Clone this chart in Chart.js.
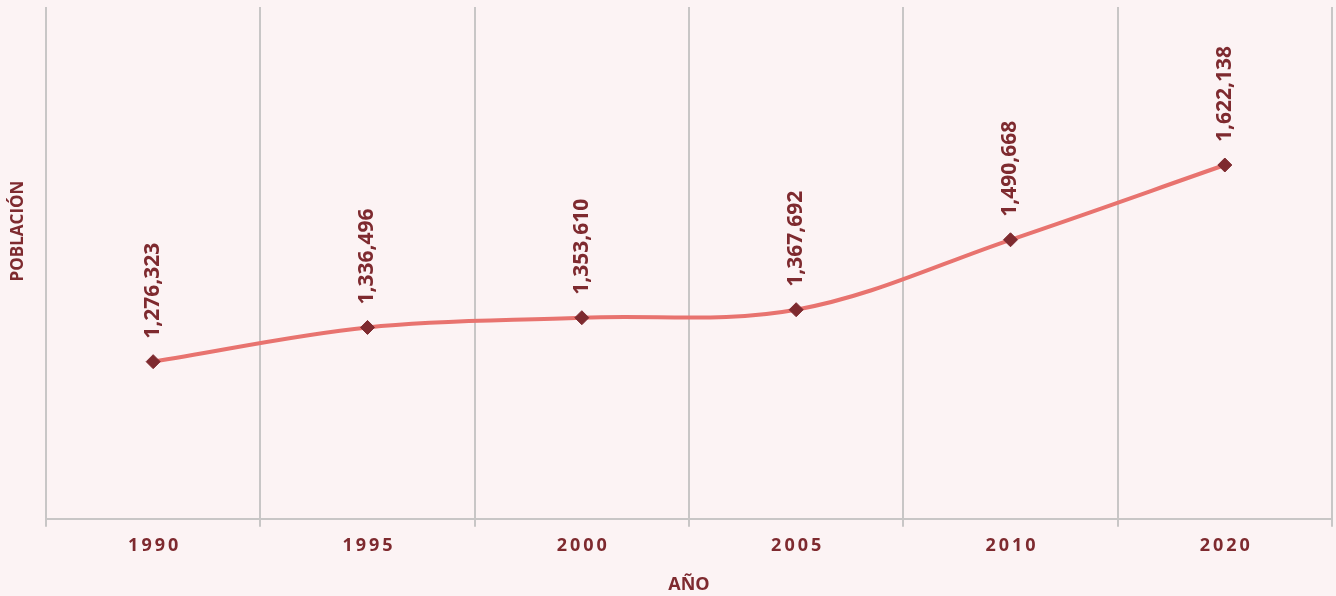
<!DOCTYPE html>
<html lang="es">
<head>
<meta charset="utf-8">
<title>Población</title>
<script src="https://cdn.jsdelivr.net/npm/chart.js@4/dist/chart.umd.min.js"></script>
<style>
  html, body { margin: 0; padding: 0; background: #fcf3f4; overflow: hidden; }
  #wrap { width: 1336px; height: 596px; position: relative; }
</style>
</head>
<body>
<div id="wrap"><canvas id="popChart"></canvas></div>
<script>
// -- Data --
const years = ['1990', '1995', '2000', '2005', '2010', '2020'];
const population = [1276323, 1336496, 1353610, 1367692, 1490668, 1622138];
const yMin = 1000000;
const yMax = 1900000;

// -- Colors --
const darkRed = '#7e2a2f';
const lineColor = '#e8736f';
const gridColor = '#c8c6c6';
const fontFamily = '"Open Sans", "DejaVu Sans", sans-serif';

// format numbers as 1,276,323
function fmt(n) {
    return n.toString().replace(/\B(?=(\d{3})+(?!\d))/g, ',');
}

// -- Plugins --
// rotated value labels above each point
const valueLabels = {
    id: 'valueLabels',
    afterDatasetsDraw(chart) {
        const ctx = chart.ctx;
        const meta = chart.getDatasetMeta(0);
        ctx.save();
        ctx.fillStyle = darkRed;
        ctx.font = 'bold 21px ' + fontFamily;
        ctx.textAlign = 'left';
        ctx.textBaseline = 'middle';
        meta.data.forEach((pt, i) => {
            ctx.save();
            ctx.translate(pt.x, pt.y - 23);
            ctx.rotate(-Math.PI / 2);
            ctx.fillText(fmt(population[i]), 0, 0);
            ctx.restore();
        });
        ctx.restore();
    }
};

// y axis title, placed where the reference has it
const yTitle = {
    id: 'yTitle',
    afterDraw(chart) {
        const ctx = chart.ctx;
        ctx.save();
        ctx.fillStyle = darkRed;
        ctx.font = 'bold 17px ' + fontFamily;
        ctx.textAlign = 'center';
        ctx.textBaseline = 'middle';
        ctx.translate(18, 231);
        ctx.rotate(-Math.PI / 2);
        ctx.fillText('POBLACIÓN', 0, 0);
        ctx.restore();
    }
};

const ctx = document.getElementById('popChart').getContext('2d');
new Chart(ctx, {
    type: 'line',
    data: {
        labels: years,
        datasets: [{
            data: population,
            borderColor: lineColor,
            borderWidth: 4,
            tension: 0.35,
            pointStyle: 'rectRot',
            pointRadius: 7,
            pointBorderWidth: 1,
            pointBackgroundColor: darkRed,
            pointBorderColor: darkRed,
            fill: false
        }]
    },
    options: {
        responsive: true,
        maintainAspectRatio: false,
        animation: false,
        layout: {
            autoPadding: false,
            padding: { left: 46, right: 4, top: 7, bottom: 0 }
        },
        plugins: {
            legend: { display: false },
            tooltip: { enabled: false }
        },
        scales: {
            x: {
                offset: true,
                grid: {
                    offset: true,
                    color: gridColor,
                    lineWidth: 2,
                    tickLength: 8,
                    drawTicks: true
                },
                border: { color: gridColor, width: 2 },
                ticks: {
                    color: darkRed,
                    font: { family: fontFamily, size: 18, weight: 'bold' },
                    padding: 8,
                    callback: function (value) {
                        return this.getLabelForValue(value).split('').join('\u2009');
                    }
                },
                title: {
                    display: true,
                    text: 'AÑO',
                    color: darkRed,
                    font: { family: fontFamily, size: 18, weight: 'bold' },
                    padding: { top: 10, bottom: 0 }
                }
            },
            y: {
                display: false,
                min: yMin,
                max: yMax
            }
        }
    },
    plugins: [valueLabels, yTitle]
});
</script>
</body>
</html>
